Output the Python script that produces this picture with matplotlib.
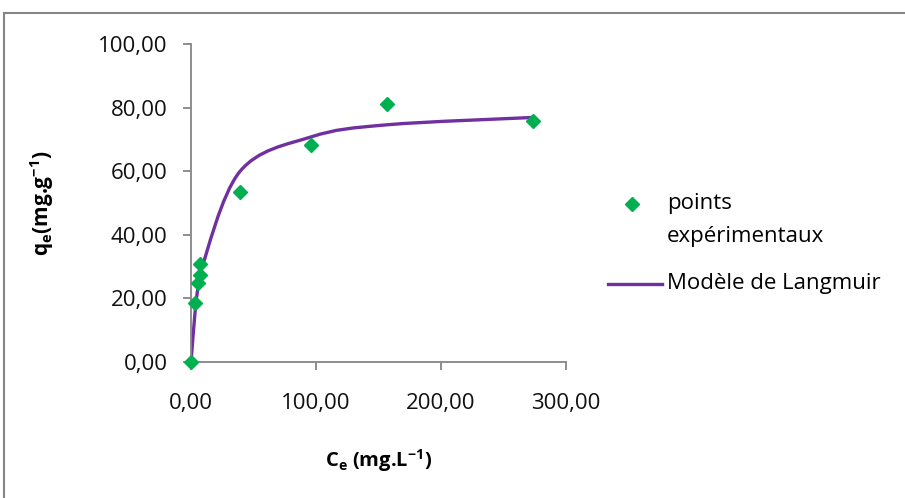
import matplotlib
matplotlib.use("Agg")
import matplotlib.pyplot as plt
from matplotlib.path import Path
from matplotlib.patches import PathPatch, Rectangle
from matplotlib.ticker import FuncFormatter
from matplotlib.lines import Line2D

plt.rcParams["font.family"] = ["Open Sans", "DejaVu Sans"]
plt.rcParams["mathtext.fontset"] = "custom"
plt.rcParams["mathtext.rm"] = "Open Sans"
plt.rcParams["mathtext.bf"] = "Open Sans:bold"
plt.rcParams["mathtext.it"] = "Open Sans:italic"

# Experimental isotherm points
ce_exp = [0.0, 3.2, 5.4, 7.2, 7.2, 38.9, 96.2, 157.1, 273.5]
qe_exp = [0.0, 18.7, 24.7, 27.5, 30.7, 53.6, 68.1, 81.1, 75.7]

# Langmuir model values at the same concentrations
ce_model = [0.0, 3.2, 5.4, 7.2, 38.9, 96.2, 157.1, 273.5]
qe_model = [0.0, 15.5, 23.0, 27.8, 59.8, 70.8, 74.6, 76.9]

x_ticks = [0, 100, 200, 300]
y_ticks = [0, 20, 40, 60, 80, 100]

GREEN = "#00B050"
PURPLE = "#7030A0"
GRAY = "#868686"
W, H = 905, 498
FS = 16


def smooth_path(xs, ys, tension=1 / 6):
    """Cubic Bezier path through the points (Catmull-Rom style smoothing)."""
    pts = list(zip(xs, ys))
    verts = [pts[0]]
    codes = [Path.MOVETO]
    n = len(pts)
    for i in range(n - 1):
        p0 = pts[i - 1] if i > 0 else pts[i]
        p1 = pts[i]
        p2 = pts[i + 1]
        p3 = pts[i + 2] if i + 2 < n else pts[i + 1]
        c1 = (p1[0] + (p2[0] - p0[0]) * tension, p1[1] + (p2[1] - p0[1]) * tension)
        c2 = (p2[0] - (p3[0] - p1[0]) * tension, p2[1] - (p3[1] - p1[1]) * tension)
        verts += [c1, c2, p2]
        codes += [Path.CURVE4] * 3
    return Path(verts, codes)


def fx(px):
    return px / W


def fy(py):
    return 1 - py / H


fig = plt.figure(figsize=(W / 100, H / 100), dpi=100)
fig.patch.set_facecolor("white")

# outer chart-area frame
fig.patches.append(Rectangle((fx(4), -0.1), 1.2, fy(13) + 0.1,
                             transform=fig.transFigure, fill=False,
                             edgecolor=GRAY, linewidth=1.5))

ax = fig.add_axes([fx(191), fy(362), fx(566) - fx(191), fy(44) - fy(362)])
ax.set_xlim(0, 300)
ax.set_ylim(0, 100)

ax.add_patch(PathPatch(smooth_path(ce_model, qe_model), facecolor="none",
                       edgecolor=PURPLE, linewidth=2.4, capstyle="round",
                       zorder=2))
ax.plot(ce_exp, qe_exp, linestyle="none", marker="D", markersize=7.5,
        color=GREEN, clip_on=False, zorder=3)

for side in ("top", "right"):
    ax.spines[side].set_visible(False)
for side in ("left", "bottom"):
    ax.spines[side].set_color(GRAY)
    ax.spines[side].set_linewidth(1.3)

ax.set_xticks(x_ticks)
ax.set_yticks(y_ticks)
fmt = FuncFormatter(lambda v, p: f"{v:.2f}".replace(".", ","))
ax.xaxis.set_major_formatter(fmt)
ax.yaxis.set_major_formatter(fmt)
ax.tick_params(direction="out", length=6, width=1.3, color=GRAY,
               labelsize=FS, labelcolor="#111111")
ax.tick_params(axis="x", pad=16)
ax.tick_params(axis="y", pad=11)

ax.set_xlabel(r"$\mathbf{C_e}$ (mg.L$^{\mathbf{-1}}$)", fontsize=14.5,
              fontweight="bold", labelpad=24)
ax.set_ylabel(r"$\mathbf{q_e}$(mg.g$^{\mathbf{-1}}$)", fontsize=15,
              fontweight="bold", labelpad=30)

# legend, laid out by hand
fig.add_artist(Line2D([fx(632)], [fy(204)], linestyle="none", marker="D",
                      markersize=7.5, color=GREEN,
                      transform=fig.transFigure))
fig.add_artist(Line2D([fx(608), fx(662)], [fy(284), fy(284)], color=PURPLE,
                      linewidth=2.4, transform=fig.transFigure))
fig.text(fx(667), fy(204), "points", fontsize=FS, va="center", ha="left")
fig.text(fx(667), fy(236), "expérimentaux", fontsize=FS, va="center",
         ha="left")
fig.text(fx(667), fy(284), "Modèle de Langmuir", fontsize=FS,
         va="center", ha="left")

fig.savefig("out.png", dpi=100)
